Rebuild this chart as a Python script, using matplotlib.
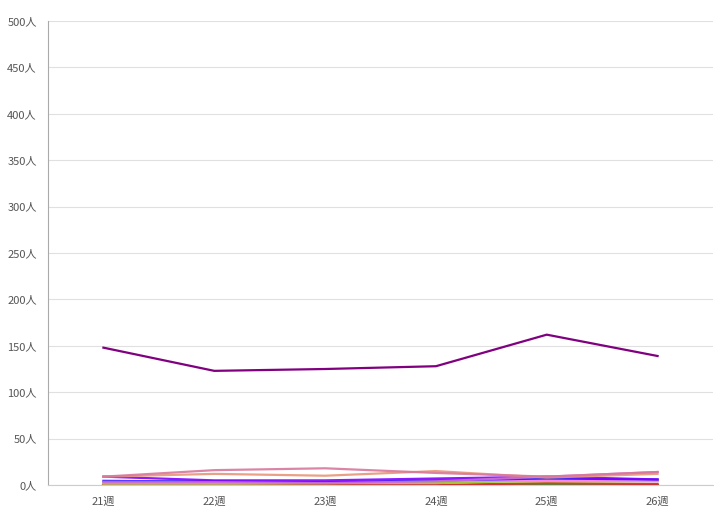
import matplotlib.pyplot as plt

plt.rcParams['font.family'] = ['Noto Sans CJK JP', 'DejaVu Sans']

weeks = ['21週', '22週', '23週', '24週', '25週', '26週']

# main series
main_vals = [148, 123, 125, 128, 162, 139]

# small series near the bottom
pink_vals = [9, 16, 18, 13, 9, 14]
salmon_vals = [9, 12, 10, 15, 8, 12]
violet_vals = [9, 5, 5, 7, 9, 6]
blue_vals = [4, 4, 3, 5, 7, 6]
orchid_vals = [3, 3, 2, 4, 9, 14]
magenta_vals = [5, 3, 3, 5, 5, 4]
lime_vals = [2, 2, 2, 3, 4, 4]
tan_vals = [1, 1, 2, 2, 6, 5]
red_vals = [0, 0, 0, 0, 2, 1]
green_vals = [0, 0, 0, 0, 0, 0]

small = [
    (green_vals, '#228b22'),
    (red_vals, '#e0202a'),
    (tan_vals, '#c8a070'),
    (lime_vals, '#9acd32'),
    (magenta_vals, '#ff80ff'),
    (blue_vals, '#2020ff'),
    (violet_vals, '#8000ff'),
    (orchid_vals, '#d070d0'),
    (salmon_vals, '#e8967a'),
    (pink_vals, '#d8789c'),
]

fig = plt.figure(figsize=(7.14, 5.26), dpi=100)
ax = fig.add_axes([48 / 714, 41 / 526, 665 / 714, 464 / 526])

x = list(range(len(weeks)))
for vals, c in small:
    ax.plot(x, vals, color=c, lw=1.6, alpha=0.9)
ax.plot(x, main_vals, color='#800080', lw=1.6)

ax.set_xlim(-0.5, 5.5)
ax.set_ylim(0, 500)
ax.set_yticks(range(0, 501, 50))
ax.set_yticklabels([f'{v}人' for v in range(0, 501, 50)])
ax.set_xticks(x)
ax.set_xticklabels(weeks)
ax.tick_params(axis='both', length=0, labelsize=8, colors='#555555', pad=8)
ax.grid(axis='y', color='#e0e0e0', lw=0.8)
ax.set_axisbelow(True)
for s in ['top', 'right']:
    ax.spines[s].set_visible(False)
ax.spines['left'].set_color('#aaaaaa')
ax.spines['bottom'].set_color('#cccccc')

plt.savefig('out.png', dpi=100)
